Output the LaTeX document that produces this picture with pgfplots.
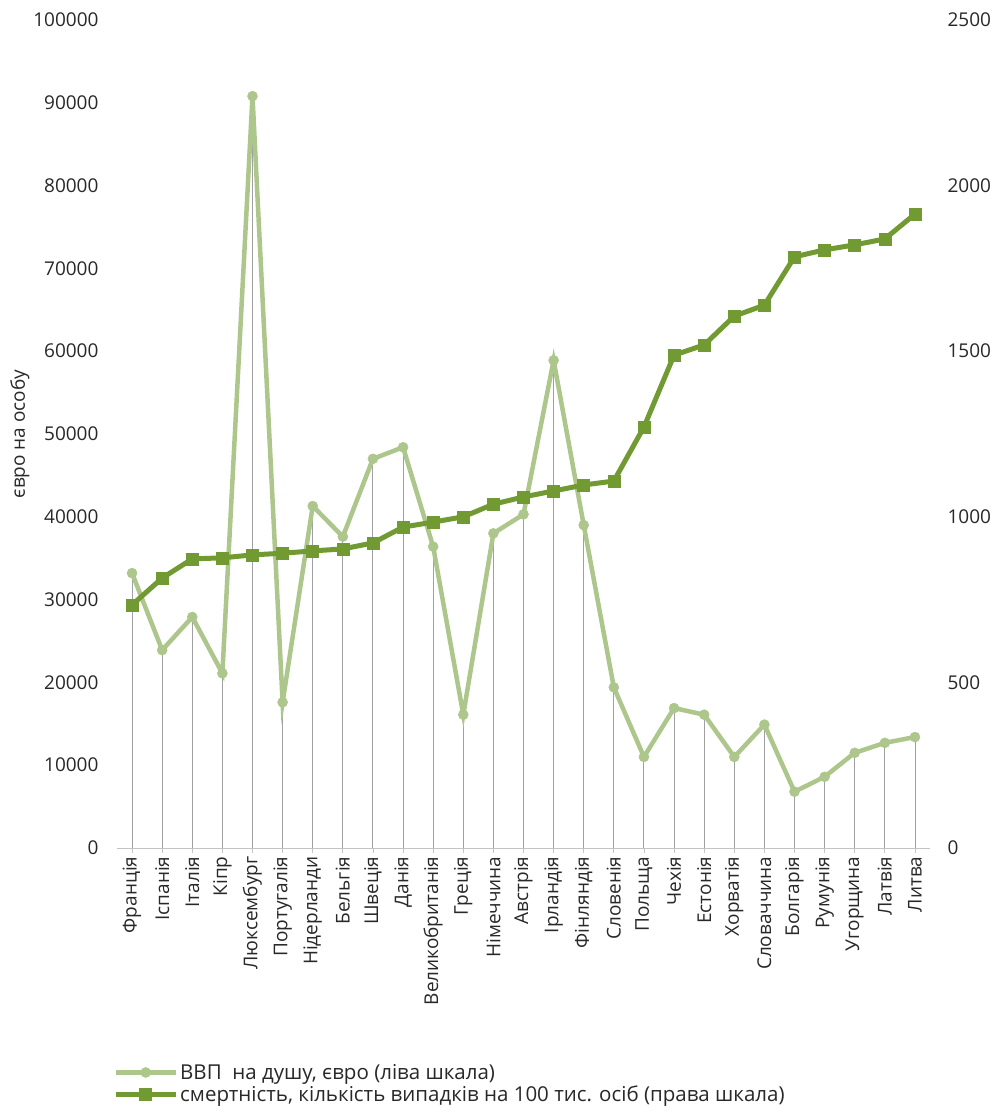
\documentclass[border=0pt]{standalone}
\usepackage{pgfplots}
\pgfplotsset{compat=1.18}
\usepackage{pgfplotstable}
\usepackage{fontspec}
\setmainfont{Open Sans}
\definecolor{gdp}{RGB}{172,198,140}
\definecolor{mort}{RGB}{114,154,50}
\definecolor{axgray}{RGB}{195,195,195}
\definecolor{dropgray}{RGB}{160,160,160}
\definecolor{txt}{RGB}{40,40,40}

\pgfplotstableread{
x gdp mort
0 33200 734
1 23900 815
2 27900 873
3 21100 876
4 90800 885
5 17600 890
6 41300 897
7 37600 903
8 47000 921
9 48400 969
10 36400 984
11 16100 1000
12 38000 1038
13 40300 1060
14 58900 1078
15 39000 1096
16 19400 1108
17 11000 1271
18 16900 1488
19 16100 1519
20 11000 1606
21 14900 1639
22 6800 1785
23 8600 1806
24 11500 1821
25 12700 1839
26 13400 1914
}\data

\newcommand{\tf}{\fontsize{19}{21}\selectfont}
\newcommand{\lf}{\fontsize{20.5}{21}\selectfont}

\begin{document}
\begin{tikzpicture}
\begin{axis}[
  at={(0,0)}, anchor=south west,
  scale only axis, width=813pt, height=828pt,
  xmin=-0.5, xmax=26.5, ymin=0, ymax=100000,
  axis x line*=bottom, axis y line*=left,
  x axis line style={axgray, line width=1pt, -},
  y axis line style={draw=none},
  ytick={0,10000,...,100000},
  ytick style={draw=none},
  xtick=data,
  xtick style={axgray, line width=0.8pt},
  tick align=outside, major tick length=5pt,
  xticklabels={Франція,Іспанія,Італія,Кіпр,Люксембург,Португалія,Нідерланди,Бельгія,Швеція,Данія,Великобританія,Греція,Німеччина,Австрія,Ірландія,Фінляндія,Словенія,Польща,Чехія,Естонія,Хорватія,Словаччина,Болгарія,Румунія,Угорщина,Латвія,Литва},
  xticklabel style={rotate=90, anchor=east, font=\tf, text=txt},
  yticklabel style={font=\tf, text=txt, xshift=-10pt},
  scaled y ticks=false,
  /pgf/number format/.cd, fixed, 1000 sep={}, assume math mode=true,
  /pgfplots/.cd,
  ylabel={євро на особу},
  ylabel style={font=\tf, text=txt, at={([xshift=-97pt]axis description cs:0,0.5)}, anchor=center},
  clip=false,
]
\addplot[ycomb, dropgray, line width=0.9pt, no marks] table[x=x, y=gdp] {\data};
\addplot[gdp, line width=4.5pt, mark=*, mark size=5pt, mark options={solid, fill=gdp, draw=gdp, line width=0.5pt}] table[x=x, y=gdp] {\data};
\end{axis}
\begin{axis}[
  at={(0,0)}, anchor=south west,
  scale only axis, width=813pt, height=828pt,
  xmin=-0.5, xmax=26.5, ymin=0, ymax=2500,
  axis x line=none, axis y line*=right,
  y axis line style={draw=none},
  ytick={0,500,...,2500},
  ytick style={draw=none},
  yticklabel style={font=\tf, text=txt, xshift=14pt},
  /pgf/number format/.cd, fixed, 1000 sep={}, assume math mode=true,
  /pgfplots/.cd,
  clip=false,
  legend style={at={(0,0)}, anchor=north west, yshift=-214pt, xshift=-4pt, draw=none, fill=none, font=\lf, text=txt, inner sep=0pt, row sep=1pt, cells={anchor=west}},
  legend image code/.code={\draw[mark repeat=2, mark phase=2] plot coordinates {(0pt,0pt) (30pt,0pt) (60pt,0pt)};},
]
\addlegendimage{gdp, line width=4.5pt, mark=*, mark size=5pt, mark options={solid, fill=gdp, draw=gdp, line width=0.5pt}}
\addlegendentry{ВВП \ на душу, євро (ліва шкала)}
\addplot[mort, line width=5pt, mark=square*, mark size=6pt, mark options={solid, fill=mort, draw=mort, line width=0.5pt}] table[x=x, y=mort] {\data};
\addlegendentry{смертність, кількість випадків на 100 тис. осіб (права шкала)}
\end{axis}
\pgfresetboundingbox
\path[use as bounding box] (-117pt,-266pt) rectangle (880pt,848pt);
\end{tikzpicture}
\end{document}
